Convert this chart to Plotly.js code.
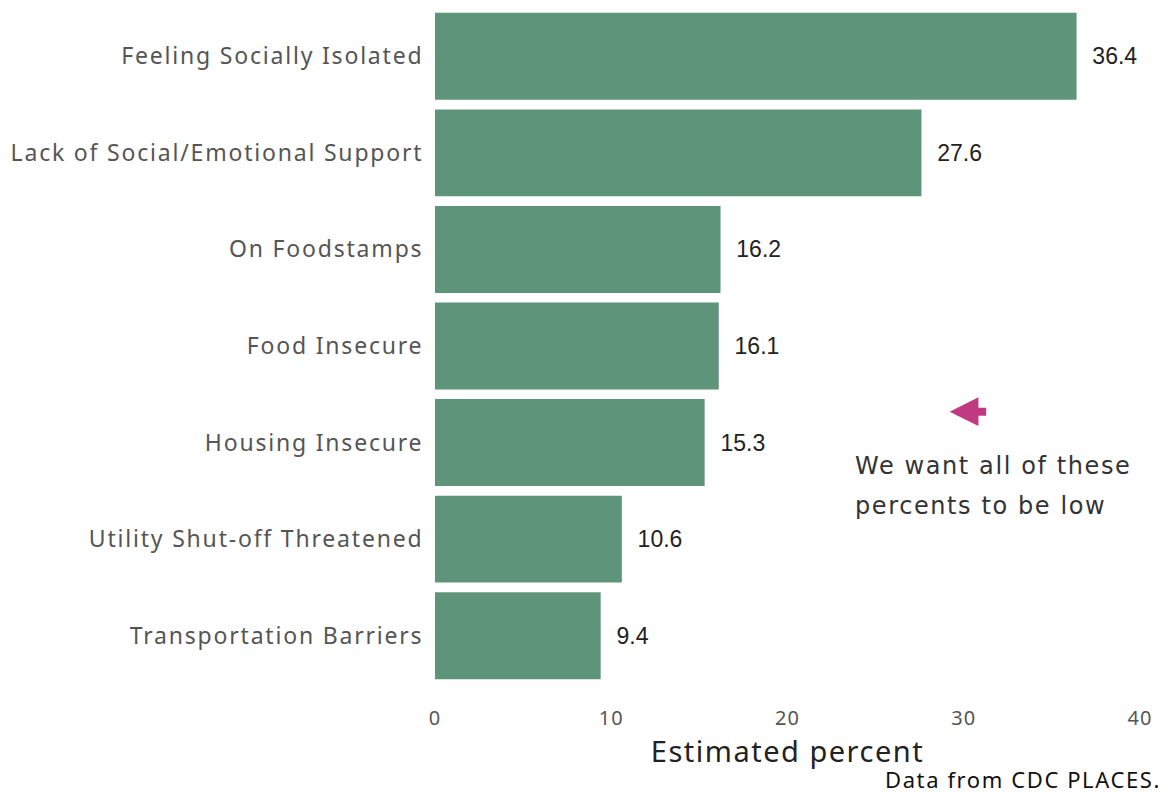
<!DOCTYPE html>
<html>
<head>
<meta charset="utf-8">
<script src="https://cdn.plot.ly/plotly-3.0.1.min.js"></script>
<style>
html,body{margin:0;padding:0;background:#fff;}
#chart{width:1165px;height:793px;}
#chart .ytick text{letter-spacing:1.8px;}
#chart .xtick text{letter-spacing:1px;}
#chart .g-xtitle text{letter-spacing:1.5px;}
</style>
</head>
<body>
<div id="chart"></div>
<script>
const categories = [
  "Feeling Socially Isolated",
  "Lack of Social/Emotional Support",
  "On Foodstamps",
  "Food Insecure",
  "Housing Insecure",
  "Utility Shut-off Threatened",
  "Transportation Barriers"
];
const values = [36.4, 27.6, 16.2, 16.1, 15.3, 10.6, 9.4];
const xTicks = [0, 10, 20, 30, 40];
const noteLines = ["We want all of these", "percents to be low"];
const sourceText = "Data from CDC PLACES.";

const trace = {
  type: "bar",
  orientation: "h",
  y: categories,
  x: values,
  width: 0.9,
  marker: {color: "#5e947a"},
  text: values.map(v => "\u00a0\u00a0" + v.toFixed(1)),
  textposition: "outside",
  cliponaxis: false,
  textfont: {family: "Liberation Sans, Arial, sans-serif", size: 23, color: "#222"},
  hoverinfo: "none"
};

const noteAnns = noteLines.map((line, i) => ({
  xref: "x", yref: "y",
  x: 23.7, y: 4.24 + i * 0.414,
  xanchor: "left", yanchor: "middle", align: "left",
  text: '<span style="letter-spacing:1.6px">' + line + '</span>',
  showarrow: false,
  font: {family: "DejaVu Sans, sans-serif", size: 24, color: "#333"}
}));

const layout = {
  width: 1165,
  height: 793,
  margin: {l: 435, r: 25, t: 8, b: 109},
  paper_bgcolor: "#fff",
  plot_bgcolor: "#fff",
  showlegend: false,
  bargap: 0.1,
  xaxis: {
    range: [0, 40],
    tickvals: xTicks,
    ticktext: xTicks.map(String),
    showgrid: false,
    zeroline: false,
    showline: false,
    ticks: "outside",
    ticklen: 16,
    tickcolor: "rgba(0,0,0,0)",
    tickfont: {family: "Noto Sans, sans-serif", size: 20, color: "#555"},
    title: {text: "Estimated percent", font: {family: "Noto Sans, sans-serif", size: 29, color: "#222"}, standoff: 3}
  },
  yaxis: {
    type: "category",
    categoryorder: "array",
    categoryarray: categories,
    range: [6.5, -0.5],
    showgrid: false,
    zeroline: false,
    showline: false,
    ticks: "outside",
    ticklen: 6,
    tickcolor: "rgba(0,0,0,0)",
    tickfont: {family: "Noto Sans, sans-serif", size: 23, color: "#555"}
  },
  annotations: [
    {
      xref: "x", yref: "y",
      x: 29.2, y: 3.68,
      ax: 38, ay: 0,
      axref: "pixel", ayref: "pixel",
      text: "",
      showarrow: true,
      arrowhead: 2,
      arrowsize: 0.72,
      arrowwidth: 8,
      arrowcolor: "#bf3a80"
    },
    ...noteAnns,
    {
      xref: "paper", yref: "paper",
      x: 1.033, y: 0,
      yshift: -112,
      xanchor: "right", yanchor: "bottom",
      text: '<span style="letter-spacing:1.6px">' + sourceText + '</span>',
      showarrow: false,
      font: {family: "Noto Sans, sans-serif", size: 22, color: "#111"}
    }
  ]
};

Plotly.newPlot("chart", [trace], layout, {displayModeBar: false, staticPlot: true});
</script>
</body>
</html>
